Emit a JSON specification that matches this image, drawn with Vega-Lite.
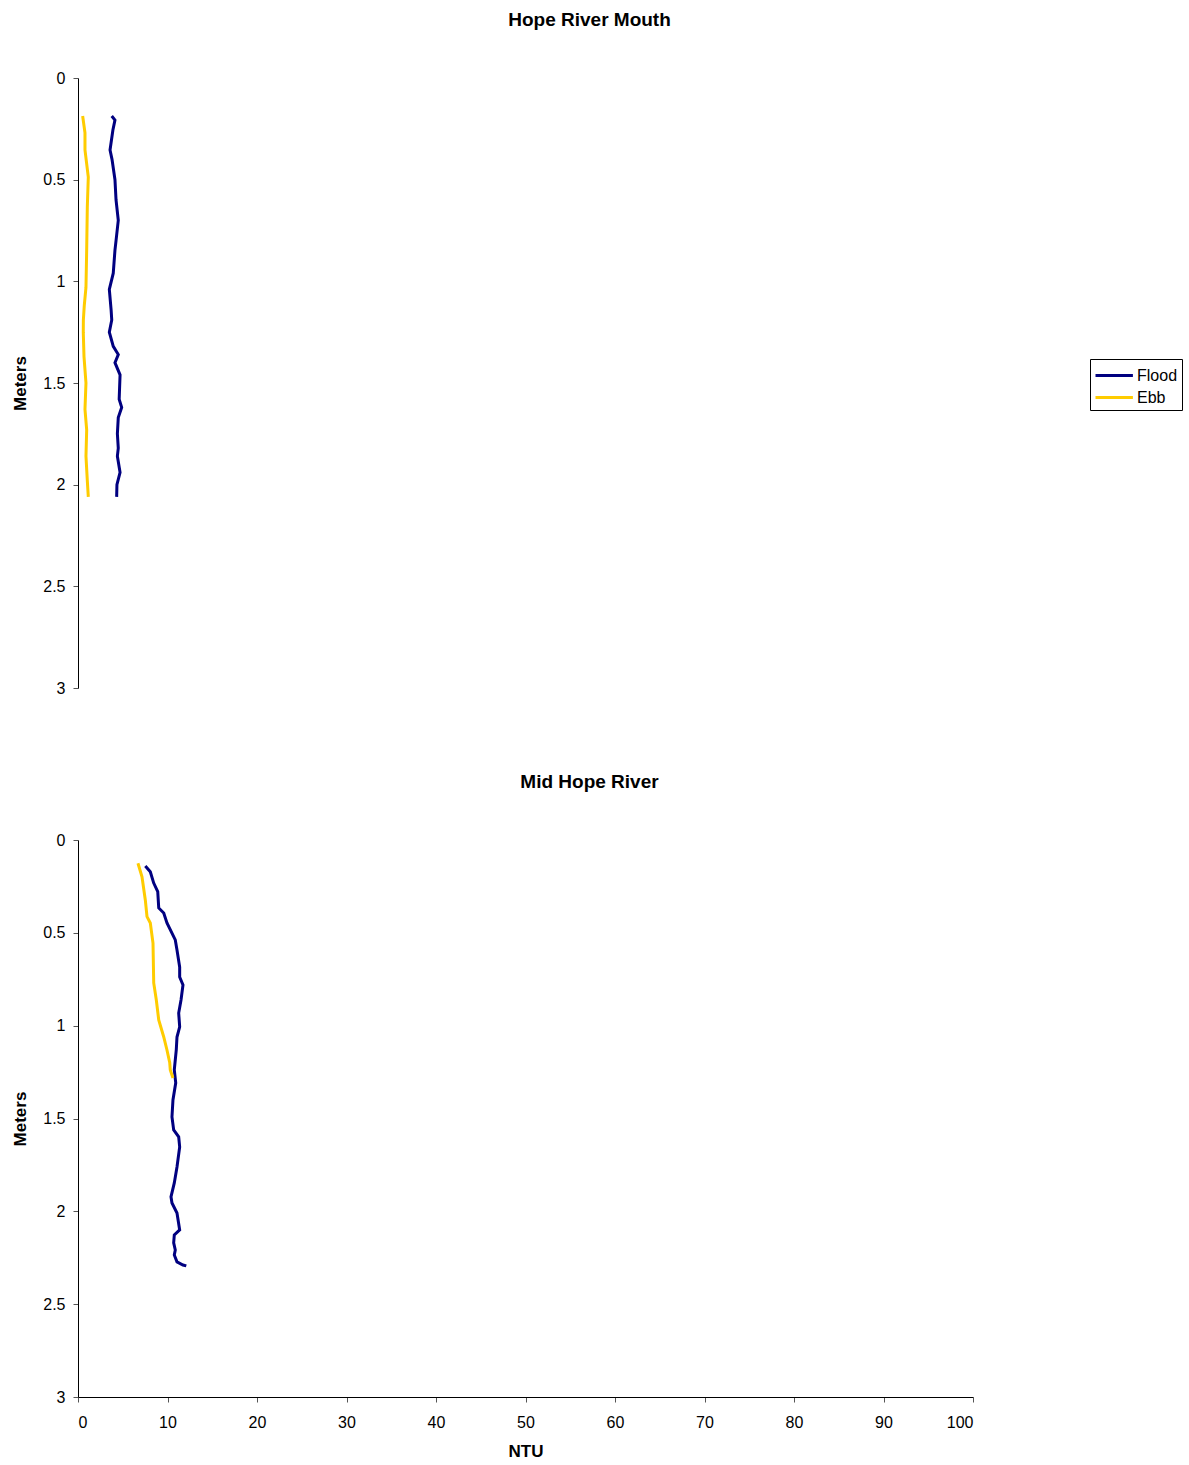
{
  "$schema": "https://vega.github.io/schema/vega-lite/v6.json",
  "padding": {"left": 11, "top": 11, "right": 5, "bottom": 5},
  "background": "white",
  "config": {
    "view": {"stroke": null},
    "font": "Liberation Sans",
    "title": {"fontSize": 19, "fontWeight": "bold", "color": "black", "font": "Liberation Sans", "offset": 40, "dx": 64},
    "axis": {
      "labelFont": "Liberation Sans", "labelFontSize": 16, "labelColor": "black",
      "titleFont": "Liberation Sans", "titleFontSize": 17, "titleFontWeight": "bold", "titleColor": "black",
      "domainColor": "black", "domainWidth": 1, "tickColor": "#555", "tickSize": 5, "grid": false, "labelPadding": 8
    },
    "legend": {
      "labelFont": "Liberation Sans", "labelFontSize": 16, "labelColor": "black"
    }
  },
  "spacing": 77,
  "datasets": {
    "d": [
      {"site": "Hope River Mouth", "tide": "Flood", "depth": 0.187, "ntu": 3.77},
      {"site": "Hope River Mouth", "tide": "Flood", "depth": 0.207, "ntu": 4.13},
      {"site": "Hope River Mouth", "tide": "Flood", "depth": 0.256, "ntu": 3.9},
      {"site": "Hope River Mouth", "tide": "Flood", "depth": 0.354, "ntu": 3.58},
      {"site": "Hope River Mouth", "tide": "Flood", "depth": 0.4, "ntu": 3.8},
      {"site": "Hope River Mouth", "tide": "Flood", "depth": 0.5, "ntu": 4.13},
      {"site": "Hope River Mouth", "tide": "Flood", "depth": 0.6, "ntu": 4.25},
      {"site": "Hope River Mouth", "tide": "Flood", "depth": 0.7, "ntu": 4.5},
      {"site": "Hope River Mouth", "tide": "Flood", "depth": 0.8, "ntu": 4.25},
      {"site": "Hope River Mouth", "tide": "Flood", "depth": 0.846, "ntu": 4.13},
      {"site": "Hope River Mouth", "tide": "Flood", "depth": 0.96, "ntu": 3.94},
      {"site": "Hope River Mouth", "tide": "Flood", "depth": 1.04, "ntu": 3.5},
      {"site": "Hope River Mouth", "tide": "Flood", "depth": 1.14, "ntu": 3.7},
      {"site": "Hope River Mouth", "tide": "Flood", "depth": 1.19, "ntu": 3.77},
      {"site": "Hope River Mouth", "tide": "Flood", "depth": 1.25, "ntu": 3.5},
      {"site": "Hope River Mouth", "tide": "Flood", "depth": 1.32, "ntu": 3.94},
      {"site": "Hope River Mouth", "tide": "Flood", "depth": 1.36, "ntu": 4.5},
      {"site": "Hope River Mouth", "tide": "Flood", "depth": 1.4, "ntu": 4.13},
      {"site": "Hope River Mouth", "tide": "Flood", "depth": 1.46, "ntu": 4.7},
      {"site": "Hope River Mouth", "tide": "Flood", "depth": 1.58, "ntu": 4.6},
      {"site": "Hope River Mouth", "tide": "Flood", "depth": 1.62, "ntu": 4.88},
      {"site": "Hope River Mouth", "tide": "Flood", "depth": 1.67, "ntu": 4.5},
      {"site": "Hope River Mouth", "tide": "Flood", "depth": 1.75, "ntu": 4.4},
      {"site": "Hope River Mouth", "tide": "Flood", "depth": 1.82, "ntu": 4.5},
      {"site": "Hope River Mouth", "tide": "Flood", "depth": 1.86, "ntu": 4.4},
      {"site": "Hope River Mouth", "tide": "Flood", "depth": 1.94, "ntu": 4.7},
      {"site": "Hope River Mouth", "tide": "Flood", "depth": 2.0, "ntu": 4.35},
      {"site": "Hope River Mouth", "tide": "Flood", "depth": 2.06, "ntu": 4.32},
      {"site": "Hope River Mouth", "tide": "Ebb", "depth": 0.187, "ntu": 0.52},
      {"site": "Hope River Mouth", "tide": "Ebb", "depth": 0.27, "ntu": 0.78},
      {"site": "Hope River Mouth", "tide": "Ebb", "depth": 0.354, "ntu": 0.78},
      {"site": "Hope River Mouth", "tide": "Ebb", "depth": 0.487, "ntu": 1.15},
      {"site": "Hope River Mouth", "tide": "Ebb", "depth": 0.635, "ntu": 1.04},
      {"site": "Hope River Mouth", "tide": "Ebb", "depth": 0.846, "ntu": 0.97},
      {"site": "Hope River Mouth", "tide": "Ebb", "depth": 1.03, "ntu": 0.89},
      {"site": "Hope River Mouth", "tide": "Ebb", "depth": 1.12, "ntu": 0.7},
      {"site": "Hope River Mouth", "tide": "Ebb", "depth": 1.19, "ntu": 0.6},
      {"site": "Hope River Mouth", "tide": "Ebb", "depth": 1.25, "ntu": 0.59},
      {"site": "Hope River Mouth", "tide": "Ebb", "depth": 1.37, "ntu": 0.67},
      {"site": "Hope River Mouth", "tide": "Ebb", "depth": 1.5, "ntu": 0.89},
      {"site": "Hope River Mouth", "tide": "Ebb", "depth": 1.63, "ntu": 0.78},
      {"site": "Hope River Mouth", "tide": "Ebb", "depth": 1.73, "ntu": 0.97},
      {"site": "Hope River Mouth", "tide": "Ebb", "depth": 1.86, "ntu": 0.89},
      {"site": "Hope River Mouth", "tide": "Ebb", "depth": 1.98, "ntu": 1.04},
      {"site": "Hope River Mouth", "tide": "Ebb", "depth": 2.06, "ntu": 1.15},
      {"site": "Mid Hope River", "tide": "Flood", "depth": 0.14, "ntu": 7.52},
      {"site": "Mid Hope River", "tide": "Flood", "depth": 0.171, "ntu": 8.08},
      {"site": "Mid Hope River", "tide": "Flood", "depth": 0.232, "ntu": 8.46},
      {"site": "Mid Hope River", "tide": "Flood", "depth": 0.278, "ntu": 8.91},
      {"site": "Mid Hope River", "tide": "Flood", "depth": 0.366, "ntu": 9.02},
      {"site": "Mid Hope River", "tide": "Flood", "depth": 0.393, "ntu": 9.58},
      {"site": "Mid Hope River", "tide": "Flood", "depth": 0.447, "ntu": 9.94},
      {"site": "Mid Hope River", "tide": "Flood", "depth": 0.538, "ntu": 10.87},
      {"site": "Mid Hope River", "tide": "Flood", "depth": 0.592, "ntu": 11.06},
      {"site": "Mid Hope River", "tide": "Flood", "depth": 0.684, "ntu": 11.36},
      {"site": "Mid Hope River", "tide": "Flood", "depth": 0.738, "ntu": 11.36},
      {"site": "Mid Hope River", "tide": "Flood", "depth": 0.781, "ntu": 11.73},
      {"site": "Mid Hope River", "tide": "Flood", "depth": 0.862, "ntu": 11.51},
      {"site": "Mid Hope River", "tide": "Flood", "depth": 0.932, "ntu": 11.25},
      {"site": "Mid Hope River", "tide": "Flood", "depth": 1.007, "ntu": 11.36},
      {"site": "Mid Hope River", "tide": "Flood", "depth": 1.061, "ntu": 11.06},
      {"site": "Mid Hope River", "tide": "Flood", "depth": 1.131, "ntu": 10.98},
      {"site": "Mid Hope River", "tide": "Flood", "depth": 1.238, "ntu": 10.76},
      {"site": "Mid Hope River", "tide": "Flood", "depth": 1.308, "ntu": 10.92},
      {"site": "Mid Hope River", "tide": "Flood", "depth": 1.4, "ntu": 10.61},
      {"site": "Mid Hope River", "tide": "Flood", "depth": 1.491, "ntu": 10.5},
      {"site": "Mid Hope River", "tide": "Flood", "depth": 1.561, "ntu": 10.69},
      {"site": "Mid Hope River", "tide": "Flood", "depth": 1.599, "ntu": 11.25},
      {"site": "Mid Hope River", "tide": "Flood", "depth": 1.653, "ntu": 11.36},
      {"site": "Mid Hope River", "tide": "Flood", "depth": 1.761, "ntu": 11.06},
      {"site": "Mid Hope River", "tide": "Flood", "depth": 1.847, "ntu": 10.76},
      {"site": "Mid Hope River", "tide": "Flood", "depth": 1.922, "ntu": 10.39},
      {"site": "Mid Hope River", "tide": "Flood", "depth": 1.955, "ntu": 10.5},
      {"site": "Mid Hope River", "tide": "Flood", "depth": 2.009, "ntu": 11.06},
      {"site": "Mid Hope River", "tide": "Flood", "depth": 2.1, "ntu": 11.36},
      {"site": "Mid Hope River", "tide": "Flood", "depth": 2.127, "ntu": 10.76},
      {"site": "Mid Hope River", "tide": "Flood", "depth": 2.17, "ntu": 10.69},
      {"site": "Mid Hope River", "tide": "Flood", "depth": 2.208, "ntu": 10.87},
      {"site": "Mid Hope River", "tide": "Flood", "depth": 2.235, "ntu": 10.76},
      {"site": "Mid Hope River", "tide": "Flood", "depth": 2.272, "ntu": 11.06},
      {"site": "Mid Hope River", "tide": "Flood", "depth": 2.289, "ntu": 11.73},
      {"site": "Mid Hope River", "tide": "Flood", "depth": 2.294, "ntu": 12.1},
      {"site": "Mid Hope River", "tide": "Ebb", "depth": 0.125, "ntu": 6.7},
      {"site": "Mid Hope River", "tide": "Ebb", "depth": 0.198, "ntu": 7.15},
      {"site": "Mid Hope River", "tide": "Ebb", "depth": 0.323, "ntu": 7.52},
      {"site": "Mid Hope River", "tide": "Ebb", "depth": 0.413, "ntu": 7.71},
      {"site": "Mid Hope River", "tide": "Ebb", "depth": 0.447, "ntu": 8.08},
      {"site": "Mid Hope River", "tide": "Ebb", "depth": 0.555, "ntu": 8.38},
      {"site": "Mid Hope River", "tide": "Ebb", "depth": 0.77, "ntu": 8.46},
      {"site": "Mid Hope River", "tide": "Ebb", "depth": 0.862, "ntu": 8.75},
      {"site": "Mid Hope River", "tide": "Ebb", "depth": 0.969, "ntu": 9.02},
      {"site": "Mid Hope River", "tide": "Ebb", "depth": 1.061, "ntu": 9.58},
      {"site": "Mid Hope River", "tide": "Ebb", "depth": 1.131, "ntu": 9.94},
      {"site": "Mid Hope River", "tide": "Ebb", "depth": 1.2, "ntu": 10.25},
      {"site": "Mid Hope River", "tide": "Ebb", "depth": 1.238, "ntu": 10.31},
      {"site": "Mid Hope River", "tide": "Ebb", "depth": 1.282, "ntu": 10.61}
    ]
  },
  "vconcat": [
    {
      "title": "Hope River Mouth",
      "width": 895,
      "height": 610,
      "data": {"name": "d"},
      "transform": [{"filter": "datum.site === 'Hope River Mouth'"}],
      "mark": {"type": "line", "strokeWidth": 3},
      "encoding": {
        "x": {"field": "ntu", "type": "quantitative", "scale": {"domain": [0, 100]}, "axis": null},
        "y": {"field": "depth", "type": "quantitative", "scale": {"domain": [0, 3], "reverse": true, "nice": false},
              "axis": {"title": "Meters", "values": [0, 0.5, 1, 1.5, 2, 2.5, 3], "format": "~g", "titlePadding": 13}},
        "color": {"field": "tide", "type": "nominal",
                  "scale": {"domain": ["Flood", "Ebb"], "range": ["#000080", "#FFCC00"]},
                  "legend": {"title": null, "orient": "none", "legendX": 1012, "legendY": 281,
                             "strokeColor": "black", "fillColor": "white", "padding": 4,
                             "symbolType": "M-1,0H2.4", "symbolSize": 484, "symbolStrokeWidth": 3, "rowPadding": 1, "labelOffset": 18}},
        "order": {"field": "depth", "type": "quantitative"}
      }
    },
    {
      "title": "Mid Hope River",
      "width": 895,
      "height": 557,
      "data": {"name": "d"},
      "transform": [{"filter": "datum.site === 'Mid Hope River'"}],
      "mark": {"type": "line", "strokeWidth": 3},
      "encoding": {
        "x": {"field": "ntu", "type": "quantitative", "scale": {"domain": [0, 100], "nice": false},
              "axis": {"title": "NTU", "values": [0, 10, 20, 30, 40, 50, 60, 70, 80, 90, 100], "labelPadding": 12, "titlePadding": 13}},
        "y": {"field": "depth", "type": "quantitative", "scale": {"domain": [0, 3], "reverse": true, "nice": false},
              "axis": {"title": "Meters", "values": [0, 0.5, 1, 1.5, 2, 2.5, 3], "format": "~g", "titlePadding": 13}},
        "color": {"field": "tide", "type": "nominal",
                  "scale": {"domain": ["Flood", "Ebb"], "range": ["#000080", "#FFCC00"]},
                  "legend": {"title": null, "orient": "none", "legendX": 1012, "legendY": 252,
                             "strokeColor": "black", "fillColor": "white", "padding": 4,
                             "symbolType": "M-1,0H2.4", "symbolSize": 484, "symbolStrokeWidth": 3, "rowPadding": 1, "labelOffset": 18}},
        "order": {"field": "depth", "type": "quantitative"}
      }
    }
  ]
}
